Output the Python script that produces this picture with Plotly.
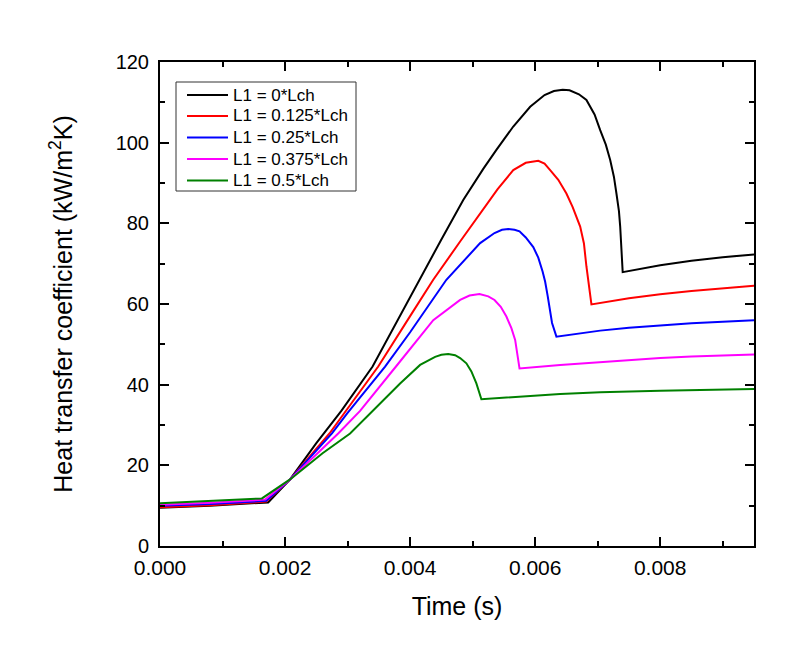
import plotly.graph_objects as go

# time in ms (converted to seconds below), heat transfer coefficient in kW/m2K
t_black = [0, 0.8, 1.73, 2.08, 2.5, 2.9, 3.4, 3.73, 4.21, 4.5, 4.85, 5.17, 5.38, 5.65, 5.92, 6.15, 6.3, 6.44, 6.55, 6.7, 6.82, 6.95, 7.04, 7.13, 7.2, 7.26, 7.3, 7.34, 7.36, 7.38, 7.40, 8.0, 8.5, 9.0, 9.5]
v_black = [9.5, 10.0, 10.8, 16.5, 25.5, 33.5, 44.5, 54, 67.5, 76, 85.8, 93.5, 98.2, 104, 108.9, 111.8, 112.8, 113.1, 113.0, 112.0, 110.6, 107.0, 103.1, 99.5, 95.7, 91.5, 87.4, 83.0, 79.2, 72.0, 67.9, 69.6, 70.7, 71.6, 72.3]

t_red = [0, 0.8, 1.70, 2.08, 2.71, 3.0, 3.49, 4.0, 4.37, 4.8, 5.12, 5.4, 5.65, 5.85, 6.05, 6.15, 6.24, 6.37, 6.5, 6.6, 6.72, 6.78, 6.82, 6.86, 6.9, 7.5, 8.0, 8.5, 9.0, 9.5]
v_red = [9.6, 10.1, 11.0, 16.5, 27.9, 34, 44.5, 57, 66, 75.5, 82.5, 88.5, 93.2, 95.0, 95.5, 94.8, 93.2, 90.8, 87.4, 84.0, 79.2, 75.0, 69.3, 64.5, 59.9, 61.4, 62.4, 63.2, 63.9, 64.5]

t_blue = [0, 0.8, 1.70, 2.08, 2.75, 3.0, 3.6, 4.0, 4.58, 4.8, 5.12, 5.35, 5.47, 5.57, 5.67, 5.75, 5.85, 5.97, 6.05, 6.12, 6.16, 6.2, 6.24, 6.27, 6.34, 7.04, 7.5, 8.0, 8.5, 9.0, 9.5]
v_blue = [10.0, 10.4, 11.2, 16.5, 27.9, 33, 44.5, 53, 66, 69.7, 75.1, 77.6, 78.4, 78.6, 78.4, 78.0, 76.5, 74.1, 71.5, 68.0, 65.5, 62.0, 58.0, 55.3, 51.9, 53.4, 54.1, 54.7, 55.2, 55.6, 56.0]

t_mag = [0, 0.8, 1.68, 2.08, 2.85, 3.2, 3.8, 4.37, 4.8, 4.95, 5.11, 5.25, 5.35, 5.45, 5.54, 5.62, 5.68, 5.72, 5.75, 6.4, 7.0, 7.5, 8.0, 8.5, 9.0, 9.5]
v_mag = [10.2, 10.7, 11.5, 16.5, 27.9, 33.5, 45.0, 56, 61, 62.1, 62.5, 61.9, 61.0, 59.3, 56.9, 54.0, 51.1, 47.5, 44.0, 44.9, 45.6, 46.1, 46.6, 47.0, 47.3, 47.5]

t_green = [0, 0.8, 1.63, 2.08, 2.6, 3.04, 3.5, 3.84, 4.16, 4.4, 4.5, 4.61, 4.72, 4.8, 4.9, 4.98, 5.06, 5.1, 5.14, 6.4, 7.04, 8.0, 9.0, 9.5]
v_green = [10.6, 11.1, 11.8, 16.5, 23, 27.9, 35, 40.3, 44.9, 46.9, 47.4, 47.6, 47.3, 46.6, 45.3, 43.3, 40.3, 38.5, 36.4, 37.7, 38.1, 38.5, 38.8, 38.9]

names = ["L1 = 0*Lch", "L1 = 0.125*Lch", "L1 = 0.25*Lch", "L1 = 0.375*Lch", "L1 = 0.5*Lch"]
colors = ["#000000", "#ff0000", "#0000ff", "#ff00ff", "#008000"]
series = [(t_black, v_black), (t_red, v_red), (t_blue, v_blue), (t_mag, v_mag), (t_green, v_green)]

W, H = 800, 667
ML, MR, MT, MB = 160, 46, 62, 121
PW, PH = W - ML - MR, H - MT - MB


def px(x):
    return (x - ML) / PW


def py(y):
    return (H - MB - y) / PH


fig = go.Figure()
for (t, v), name, c in zip(series, names, colors):
    fig.add_trace(go.Scatter(x=[ti * 1e-3 for ti in t], y=v, mode="lines", name=name,
                             line=dict(color=c, width=2), showlegend=False))

font_family = "Liberation Sans, Arial, sans-serif"

# legend drawn as box + sample lines + labels
shapes = [dict(type="rect", xref="paper", yref="paper", x0=px(176), x1=px(356), y0=py(191), y1=py(82),
               line=dict(color="#333333", width=1), fillcolor="white", layer="above")]
annotations = []
entry_y = [95, 116, 137.5, 159, 180.5]
for name, c, ey in zip(names, colors, entry_y):
    shapes.append(dict(type="line", xref="paper", yref="paper", x0=px(187), x1=px(228), y0=py(ey), y1=py(ey),
                       line=dict(color=c, width=2), layer="above"))
    annotations.append(dict(xref="paper", yref="paper", x=px(231), y=py(ey), xanchor="left", yanchor="middle",
                            text=name, showarrow=False, font=dict(size=17, family=font_family, color="black")))

fig.update_layout(
    width=W, height=H,
    margin=dict(l=ML, r=MR, t=MT, b=MB),
    plot_bgcolor="white", paper_bgcolor="white",
    font=dict(family=font_family, color="black"),
    showlegend=False,
    shapes=shapes, annotations=annotations,
)
fig.update_xaxes(
    range=[0, 0.0095], tickvals=[0, 0.002, 0.004, 0.006, 0.008],
    ticktext=["0.000", "0.002", "0.004", "0.006", "0.008"],
    ticks="inside", ticklen=9, tickwidth=2, tickcolor="black",
    showline=True, linewidth=2, linecolor="black", mirror="allticks",
    showgrid=False, zeroline=False,
    tickfont=dict(size=21), ticklabelstandoff=2,
    minor=dict(tickvals=[0.001, 0.003, 0.005, 0.007, 0.009], ticks="inside", ticklen=5, tickwidth=2, tickcolor="black", showgrid=False),
    title=dict(text="Time (s)", font=dict(size=25), standoff=19),
)
fig.update_yaxes(
    range=[0, 120], tickvals=[0, 20, 40, 60, 80, 100, 120],
    ticks="inside", ticklen=9, tickwidth=2, tickcolor="black",
    showline=True, linewidth=2, linecolor="black", mirror="allticks",
    showgrid=False, zeroline=False,
    tickfont=dict(size=20), ticklabelstandoff=5,
    minor=dict(tickvals=[10, 30, 50, 70, 90, 110], ticks="inside", ticklen=5, tickwidth=2, tickcolor="black", showgrid=False),
    title=dict(text="Heat transfer coefficient (kW/m<sup>2</sup>K)", font=dict(size=25), standoff=36),
)

fig.write_html("out.html")
